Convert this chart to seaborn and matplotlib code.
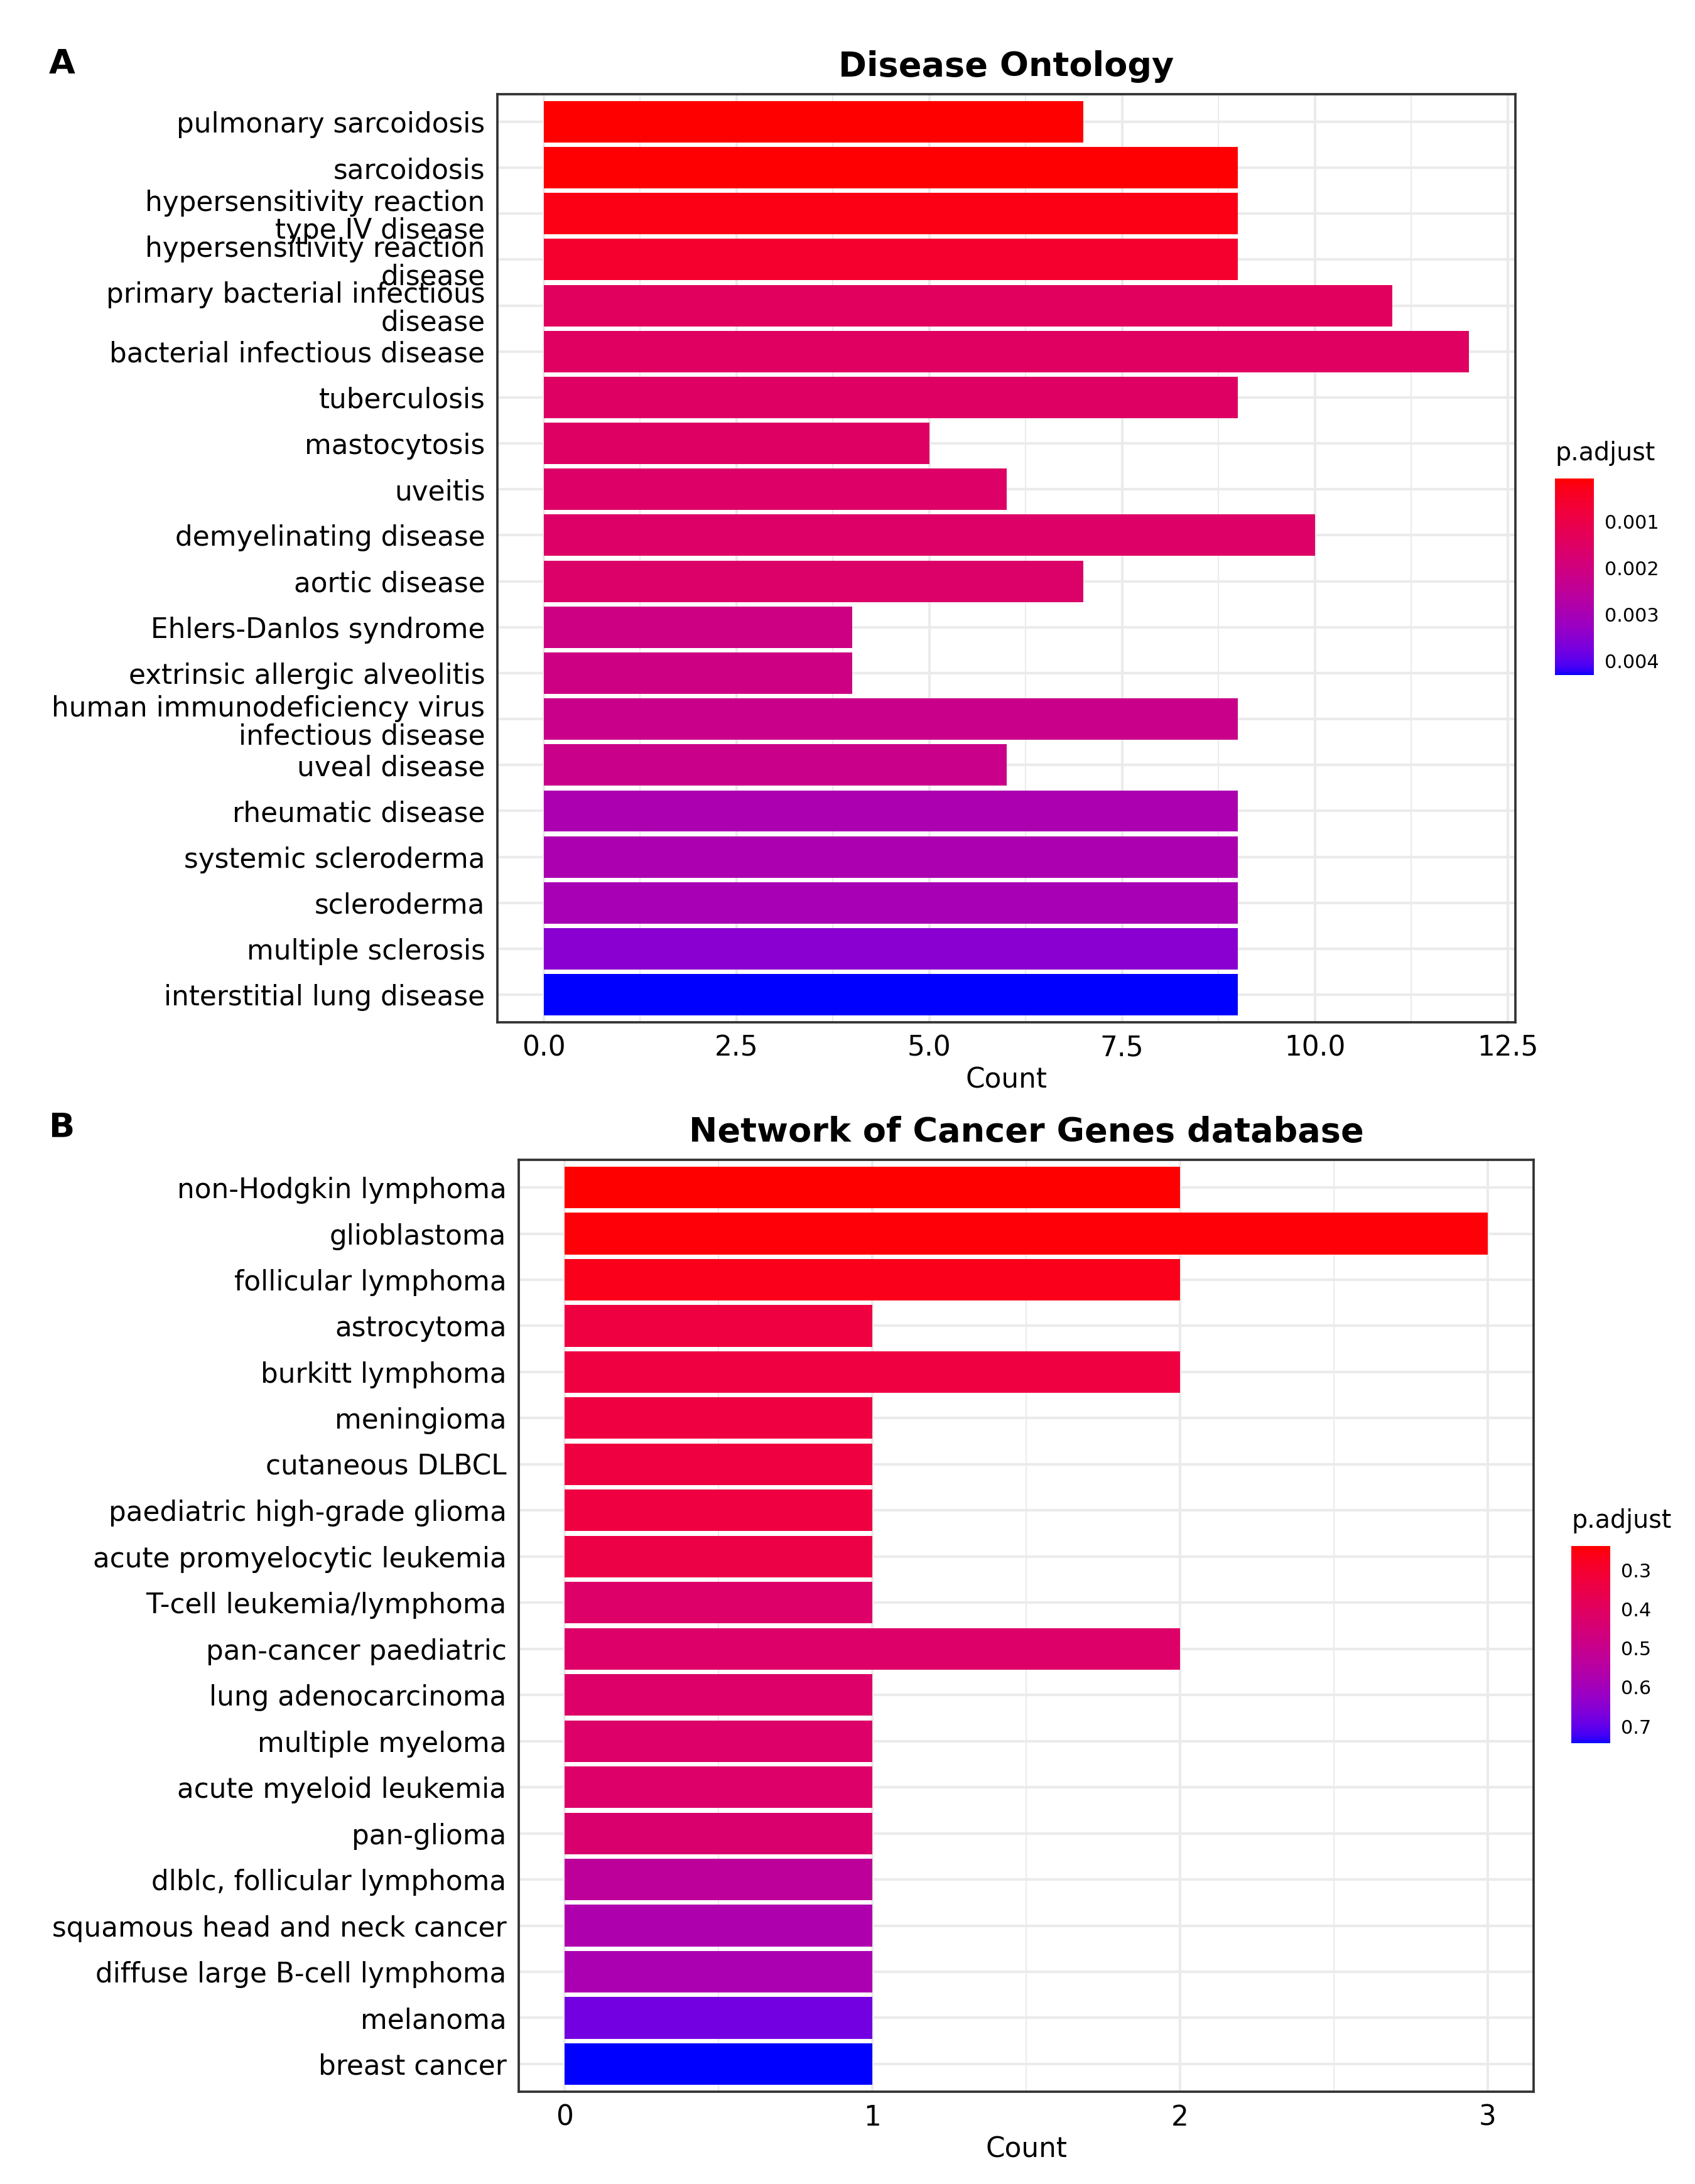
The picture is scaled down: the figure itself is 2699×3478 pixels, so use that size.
import numpy as np
import pandas as pd
import matplotlib
import matplotlib.pyplot as plt
import seaborn as sns
from matplotlib.colors import ListedColormap, Normalize
from matplotlib.cm import ScalarMappable
from matplotlib.ticker import MultipleLocator, FormatStrFormatter
plt.switch_backend('agg')

# --- data ---------------------------------------------------------------
do_terms = ['pulmonary sarcoidosis', 'sarcoidosis',
            'hypersensitivity reaction\ntype IV disease',
            'hypersensitivity reaction\ndisease',
            'primary bacterial infectious\ndisease',
            'bacterial infectious disease', 'tuberculosis', 'mastocytosis',
            'uveitis', 'demyelinating disease', 'aortic disease',
            'Ehlers-Danlos syndrome', 'extrinsic allergic alveolitis',
            'human immunodeficiency virus\ninfectious disease',
            'uveal disease', 'rheumatic disease', 'systemic scleroderma',
            'scleroderma', 'multiple sclerosis', 'interstitial lung disease']
do_counts = [7, 9, 9, 9, 11, 12, 9, 5, 6, 10, 7, 4, 4, 9, 6, 9, 9, 9, 9, 9]
do_padj = [0.00007, 0.00009, 0.00025, 0.00055, 0.00140, 0.00145, 0.00150,
           0.00150, 0.00155, 0.00155, 0.00160, 0.00210, 0.00210, 0.00220,
           0.00220, 0.00290, 0.00290, 0.00300, 0.00350, 0.00430]

ncg_terms = ['non-Hodgkin lymphoma', 'glioblastoma', 'follicular lymphoma',
             'astrocytoma', 'burkitt lymphoma', 'meningioma',
             'cutaneous DLBCL', 'paediatric high-grade glioma',
             'acute promyelocytic leukemia', 'T-cell leukemia/lymphoma',
             'pan-cancer paediatric', 'lung adenocarcinoma',
             'multiple myeloma', 'acute myeloid leukemia', 'pan-glioma',
             'dlblc, follicular lymphoma', 'squamous head and neck cancer',
             'diffuse large B-cell lymphoma', 'melanoma', 'breast cancer']
ncg_counts = [2, 3, 2, 1, 2, 1, 1, 1, 1, 1, 2, 1, 1, 1, 1, 1, 1, 1, 1, 1]
ncg_padj = [0.239, 0.245, 0.265, 0.335, 0.335, 0.335, 0.335, 0.335, 0.345,
            0.42, 0.42, 0.42, 0.42, 0.42, 0.43, 0.53, 0.57, 0.58, 0.68, 0.743]


# --- red -> blue gradient interpolated in Lab (like ggplot) --------------
def _to_lab(rgb):
    rgb = np.asarray(rgb, float)
    lin = np.where(rgb <= 0.04045, rgb / 12.92, ((rgb + 0.055) / 1.055) ** 2.4)
    m = np.array([[0.4124, 0.3576, 0.1805],
                  [0.2126, 0.7152, 0.0722],
                  [0.0193, 0.1192, 0.9505]])
    xyz = m @ lin / np.array([0.95047, 1.0, 1.08883])
    f = np.where(xyz > 0.008856, np.cbrt(xyz), 7.787 * xyz + 16 / 116)
    return np.array([116 * f[1] - 16, 500 * (f[0] - f[1]), 200 * (f[1] - f[2])])


def _from_lab(lab):
    L, a, b = lab
    fy = (L + 16) / 116
    fx = fy + a / 500
    fz = fy - b / 200
    f = np.array([fx, fy, fz])
    xyz = np.where(f ** 3 > 0.008856, f ** 3, (f - 16 / 116) / 7.787)
    xyz = xyz * np.array([0.95047, 1.0, 1.08883])
    m = np.array([[3.2406, -1.5372, -0.4986],
                  [-0.9689, 1.8758, 0.0415],
                  [0.0557, -0.2040, 1.0570]])
    lin = np.clip(m @ xyz, 0, 1)
    rgb = np.where(lin <= 0.0031308, 12.92 * lin, 1.055 * lin ** (1 / 2.4) - 0.055)
    return np.clip(rgb, 0, 1)


lo, hi = _to_lab([1, 0, 0]), _to_lab([0, 0, 1])
cmap = ListedColormap([_from_lab(lo + t * (hi - lo)) for t in np.linspace(0, 1, 256)])

sns.set_style('white')
plt.rcParams['font.family'] = ['DejaVu Sans']
plt.rcParams['text.color'] = 'black'
plt.rcParams['axes.labelcolor'] = 'black'
plt.rcParams['axes.titlecolor'] = 'black'

W, H = 2699, 3478
fig = plt.figure(figsize=(W / 300, H / 300), dpi=300)


def panel(rect, crect, terms, counts, padj, title, step, fmt, minor):
    ax = fig.add_axes(rect)
    df = pd.DataFrame({'Description': terms, 'Count': counts, 'p.adjust': padj})
    norm = Normalize(min(padj), max(padj))
    pal = {t: cmap(norm(p)) for t, p in zip(terms, padj)}
    sns.barplot(data=df, x='Count', y='Description', hue='Description',
                palette=pal, legend=False, width=0.9, saturation=1,
                linewidth=0, ax=ax)
    xmax = max(counts)
    ax.set_xlim(-0.05 * xmax, xmax * 1.05)
    ax.set_ylim(len(terms) - 0.4, -0.6)
    ax.xaxis.set_major_locator(MultipleLocator(step))
    ax.xaxis.set_minor_locator(MultipleLocator(minor))
    ax.xaxis.set_major_formatter(FormatStrFormatter(fmt))
    ax.set_axisbelow(True)
    ax.grid(which='major', axis='both', color='#EBEBEB', lw=1.0)
    ax.grid(which='minor', axis='x', color='#EBEBEB', lw=0.5)
    for s in ax.spines.values():
        s.set_color('#333333')
        s.set_linewidth(0.9)
    ax.tick_params(which='major', length=2.2, width=0.9, color='#333333',
                   labelsize=10.5, labelcolor='black', pad=2.5)
    ax.tick_params(which='minor', length=0)
    ax.set_ylabel('')
    ax.set_xlabel('Count', fontsize=10.5, labelpad=2, color='black')
    for lab in ax.get_yticklabels():
        lab.set_linespacing(1.05)
    ax.set_title(title, fontsize=13, fontweight='bold', pad=7, color='black')

    cax = fig.add_axes(crect)
    cb = fig.colorbar(ScalarMappable(norm=norm, cmap=cmap), cax=cax)
    cb.outline.set_visible(False)
    cax.invert_yaxis()
    cax.tick_params(direction='in', left=True, right=True, length=3,
                    width=0.6, color='white', labelsize=7.3, labelcolor='black',
                    pad=4)
    cax.set_title('p.adjust', fontsize=9.5, loc='left', pad=7, color='black')
    return ax, cb


axA, cbA = panel([792 / W, 1 - 1628 / H, 1621 / W, 1478 / H],
                 [2476 / W, 1 - 1075 / H, 62 / W, 313 / H],
                 do_terms, do_counts, do_padj, 'Disease Ontology',
                 2.5, '%.1f', 1.25)
cbA.set_ticks([0.001, 0.002, 0.003, 0.004])

axB, cbB = panel([826 / W, 1 - 3331 / H, 1616 / W, 1484 / H],
                 [2502 / W, 1 - 2776 / H, 62 / W, 314 / H],
                 ncg_terms, ncg_counts, ncg_padj,
                 'Network of Cancer Genes database', 1, '%d', 0.5)
cbB.set_ticks([0.3, 0.4, 0.5, 0.6, 0.7])

fig.text(78 / W, 1 - 117 / H, 'A', fontsize=13, fontweight='bold', va='baseline')
fig.text(78 / W, 1 - 1810 / H, 'B', fontsize=13, fontweight='bold', va='baseline')

fig.savefig('out.png', dpi=300, facecolor='white')
